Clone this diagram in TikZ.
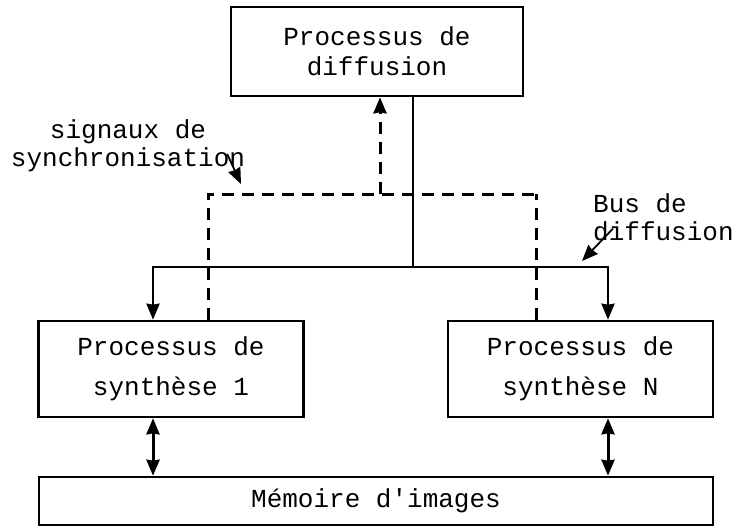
\documentclass[tikz,border=0pt]{standalone}
\usepackage{fontspec}
\newfontfamily\typewriter{Liberation Mono}
\usepackage{tikz}
\usetikzlibrary{arrows.meta, positioning, calc}

\begin{document}
\begin{tikzpicture}[
    x=1pt, y=-1pt,
    process/.style={draw, line width=2.6pt, inner sep=0pt, align=center, font=\typewriter\fontsize{26}{30}\selectfont},
    synth/.style={process, minimum width=265pt, minimum height=96pt, font=\typewriter\fontsize{26}{40}\selectfont},
    arrow/.style={-{Stealth[length=16pt, width=13pt, inset=1pt]}, line width=2.6pt},
    twoway/.style={{Stealth[length=16pt, width=13pt, inset=1pt]}-{Stealth[length=16pt, width=13pt, inset=1pt]}, line width=3pt},
    sync/.style={line width=3pt, dash pattern=on 12pt off 8pt},
    note/.style={font=\typewriter\fontsize{26}{28}\selectfont, inner sep=0pt}
]
    \useasboundingbox (0,0) rectangle (738,528);

    % Main entities
    \node[process, minimum width=292pt, minimum height=89pt] (diffusion) at (377,51.5) {Processus de\\diffusion};
    \node[synth] (synth1) at (171,369) {Processus de\\synthèse 1};
    \node[synth] (synthN) at (580.5,369) {Processus de\\synthèse N};
    \node[process, minimum width=674pt, minimum height=48pt] (memoire) at (376,501) {Mémoire d'images};

    % Bus and synchronisation points
    \coordinate (busM) at (413,267);
    \coordinate (busL) at (153,267);
    \coordinate (busR) at (608,267);
    \coordinate (syncM) at (380,194);
    \coordinate (syncL) at (208,194);
    \coordinate (syncR) at (536,194);

    % Bus de diffusion
    \draw[line width=2.6pt] (diffusion.south -| busM) -- (busM);
    \draw[arrow] (busM) -- (busL) -- (synth1.north -| busL);
    \draw[arrow] (busM) -- (busR) -- (synthN.north -| busR);

    % Signaux de synchronisation
    \draw[sync] (synth1.north -| syncL) -- (syncL) -- (syncR);
    \draw[sync] (synthN.north -| syncR) -- (syncR);
    \draw[sync, arrow, line width=3pt] (syncM) -- (diffusion.south -| syncM);

    % Memoire d'images
    \draw[twoway] (synth1.south -| busL) -- (memoire.north -| busL);
    \draw[twoway] (synthN.south -| busR) -- (memoire.north -| busR);

    % Labels
    \node[note, align=center] (synclabel) at (128,146) {signaux de\\synchronisation};
    \coordinate (syncpoint) at (241,184);
    \draw[arrow, line width=1.8pt] ($(synclabel.east)+(-18,8)$) -- (syncpoint);
    \node[note, align=left, anchor=north west] (buslabel) at (593,193) {Bus de\\diffusion};
    \coordinate (buspoint) at (582,261);
    \draw[arrow, line width=1.8pt] ($(buslabel.south west)+(20,-12)$) -- (buspoint);

\end{tikzpicture}
\end{document}
